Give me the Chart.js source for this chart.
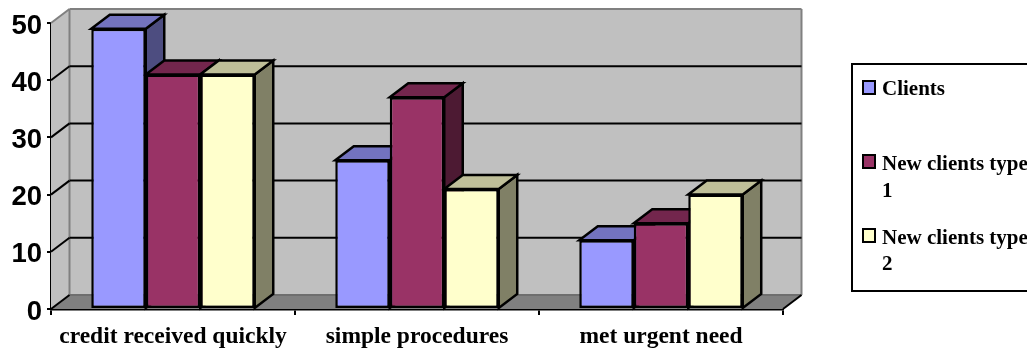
<!DOCTYPE html>
<html>
<head>
<meta charset="utf-8">
<style>
html,body{margin:0;padding:0;background:#fff;overflow:hidden}
canvas{display:block}
</style>
<script src="https://cdn.jsdelivr.net/npm/chart.js@4/dist/chart.umd.min.js"></script>
</head>
<body>
<canvas id="c" width="1027" height="348"></canvas>
<script>
const categories = ["credit received quickly", "simple procedures", "met urgent need"];
const clients = [49, 26, 12];
const newClientsType1 = [41, 37, 15];
const newClientsType2 = [41, 21, 20];
const seriesNames = ["Clients", "New clients type 1", "New clients type 2"];
const yTicks = [0, 10, 20, 30, 40, 50];
const frontColors = ["#9999FF", "#993366", "#FFFFCC"];
const topColors = ["#7373BF", "#73264D", "#BFBF99"];
const sideColors = ["#4D4D80", "#4D1A33", "#808066"];

const DX = 18.5, DY = 14;

function poly(ctx, pts, fill, stroke, lw) {
  ctx.beginPath();
  pts.forEach((p, i) => i ? ctx.lineTo(p[0], p[1]) : ctx.moveTo(p[0], p[1]));
  ctx.closePath();
  if (fill) { ctx.fillStyle = fill; ctx.fill(); }
  if (stroke) { ctx.strokeStyle = stroke; ctx.lineWidth = lw; ctx.lineJoin = "miter"; ctx.stroke(); }
}
function line(ctx, x0, y0, x1, y1, color, lw) {
  ctx.beginPath(); ctx.moveTo(x0, y0); ctx.lineTo(x1, y1);
  ctx.strokeStyle = color; ctx.lineWidth = lw; ctx.stroke();
}

const wallsAndDepth = {
  id: "wallsAndDepth",
  beforeDraw(chart) {
    // nudge the value labels down so they sit level with their ticks
    const y = chart.scales.y;
    y._labelItems = y.getLabelItems(chart.chartArea).map(it => ({ ...it, textOffset: (it.textOffset || 0) + 3 }));
  },
  beforeDatasetsDraw(chart) {
    const ctx = chart.ctx, y = chart.scales.y, a = chart.chartArea;
    const L = a.left, R = a.right, B = y.getPixelForValue(0), T = y.getPixelForValue(50);
    ctx.save();
    poly(ctx, [[L, B], [L + DX, B - DY], [L + DX, T - DY], [L, T]], "#C0C0C0", null);
    poly(ctx, [[L + DX, B - DY], [R + DX, B - DY], [R + DX, T - DY], [L + DX, T - DY]], "#C0C0C0", null);
    poly(ctx, [[L, B], [L + DX, B - DY], [R + DX, B - DY], [R, B]], "#808080", null);
    line(ctx, L, T, L + DX, T - DY, "#808080", 2);
    line(ctx, L + DX, T - DY, R + DX, T - DY, "#808080", 2);
    line(ctx, R + DX, T - DY, R + DX, B - DY, "#808080", 2);
    line(ctx, L + DX, T - DY, L + DX, B - DY, "#808080", 2);
    line(ctx, L + DX, B - DY, R + DX, B - DY, "#6E6E6E", 2);
    yTicks.forEach(v => {
      const py = y.getPixelForValue(v);
      if (v !== 50) line(ctx, L, py, L + DX, py - DY, "#000", 2);
      if (v !== 0 && v !== 50) line(ctx, L + DX, py - DY, R + DX, py - DY, "#000", 2);
    });
    line(ctx, R, B, R + DX, B - DY, "#000", 2);
    chart.data.datasets.forEach((ds, di) => {
      chart.getDatasetMeta(di).data.forEach(bar => {
        const l = bar.x - bar.width / 2, r = bar.x + bar.width / 2, t = bar.y, b = bar.base;
        poly(ctx, [[r, t], [r + DX, t - DY], [r + DX, b - DY], [r, b]], sideColors[di], "#000", 2.5);
        poly(ctx, [[l, t], [l + DX, t - DY], [r + DX, t - DY], [r, t]], topColors[di], "#000", 2.5);
      });
    });
    ctx.restore();
  }
};

const legendBox = {
  id: "legendBox",
  afterDraw(chart) {
    const ctx = chart.ctx;
    ctx.save();
    ctx.strokeStyle = "#000"; ctx.lineWidth = 2;
    ctx.strokeRect(852, 64, 190, 227);
    const swatchY = [81, 155, 229];
    const baselines = [[95], [170, 197], [244, 270]];
    ctx.font = "bold 21px 'Liberation Serif'";
    ctx.textBaseline = "alphabetic"; ctx.textAlign = "left";
    chart.data.datasets.forEach((ds, i) => {
      ctx.fillStyle = frontColors[i];
      ctx.fillRect(863, swatchY[i], 12, 13);
      ctx.strokeStyle = "#000"; ctx.lineWidth = 2;
      ctx.strokeRect(863, swatchY[i], 12, 13);
      ctx.fillStyle = "#000";
      const words = ds.label.split(" ");
      const lines = words.length > 1
        ? [words.slice(0, -1).join(" "), words[words.length - 1]]
        : [ds.label];
      lines.forEach((ln, k) => ctx.fillText(ln, 882, baselines[i][k]));
    });
    ctx.restore();
  }
};

new Chart(document.getElementById("c"), {
  type: "bar",
  data: {
    labels: categories,
    datasets: [clients, newClientsType1, newClientsType2].map((d, i) => ({
      label: seriesNames[i],
      data: d,
      backgroundColor: frontColors[i],
      borderColor: "#000",
      borderWidth: 2.5,
      borderSkipped: false,
      categoryPercentage: 0.67,
      barPercentage: 1
    }))
  },
  options: {
    responsive: false,
    animation: false,
    devicePixelRatio: 1,
    layout: { padding: { left: 0, right: 244, top: 23, bottom: 0 } },
    plugins: { legend: { display: false }, title: { display: false }, tooltip: { enabled: false } },
    scales: {
      x: {
        afterFit(s) { s.height = 39; },
        border: { color: "#000", width: 2.5 },
        grid: { drawOnChartArea: false, drawTicks: true, color: "#000", lineWidth: 2, tickLength: 6 },
        ticks: { color: "#000", font: { family: "'Liberation Serif'", weight: "bold", size: 23.5 }, padding: 8, autoSkip: false, maxRotation: 0 }
      },
      y: {
        min: 0, max: 50,
        afterFit(s) { s.width = 51; },
        afterBuildTicks(s) { s.ticks = yTicks.map(v => ({ value: v })); },
        border: { color: "#000", width: 2.5 },
        grid: { drawOnChartArea: false, drawTicks: true, color: "#000", lineWidth: 2, tickLength: 4 },
        ticks: { color: "#000", font: { family: "'Liberation Sans'", weight: "bold", size: 27.5 }, padding: 5 }
      }
    }
  },
  plugins: [wallsAndDepth, legendBox]
});
</script>
</body>
</html>
